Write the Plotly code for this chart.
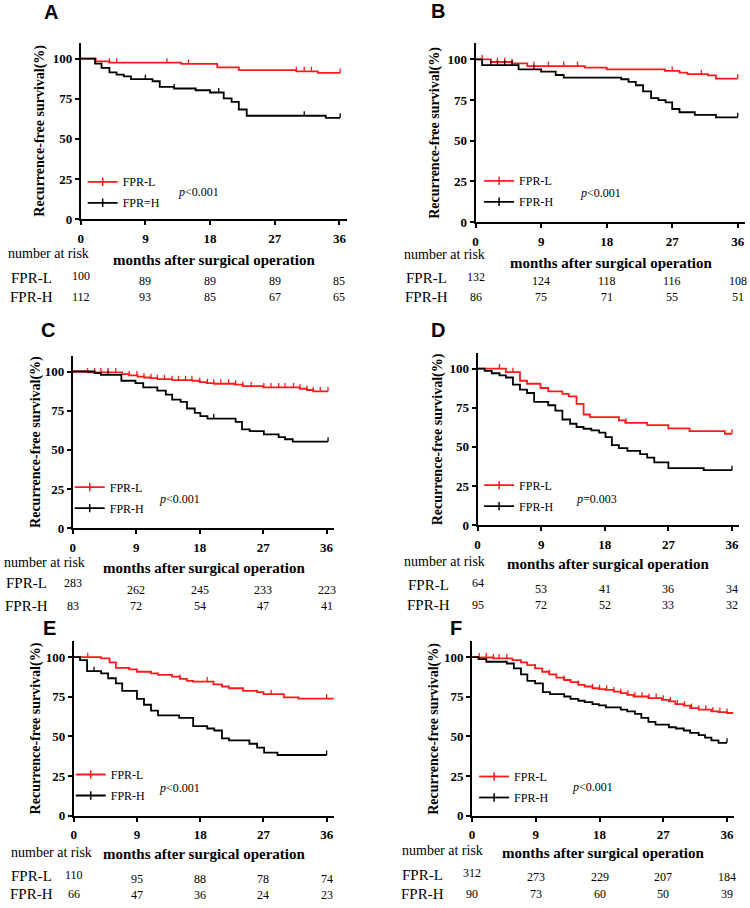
import plotly.graph_objects as go

W, H = 750, 908

month_ticks = [0, 9, 18, 27, 36]
surv_ticks = [0, 25, 50, 75, 100]
group_names = ["FPR-L", "FPR-H"]
group_colors = ["#ff1a1a", "#000000"]

# ---------------- Panel A ----------------
A_L_t = [0, 2.1, 4, 14, 19, 22, 30, 33, 36.1]
A_L_s = [100, 98.3, 97.5, 96.7, 94.6, 92.8, 92.1, 91.1, 91.1]
A_L_c = [4, 5, 12, 15, 30, 31.1, 32.1, 36.1]
A_H_t = [0, 2, 2.9, 4, 5, 6, 7, 10, 11, 13, 16, 18, 19.9, 21, 22, 23.1, 34.1, 36.1]
A_H_s = [100, 96.9, 94.2, 91.5, 90.1, 89, 87.2, 85.9, 82.4, 81.4, 80.3, 78.9, 75.2, 73.1, 68.3, 64.4, 63.1, 63.1]
A_H_c = [9, 13, 19.2, 31.1, 36.1]
A_L_risk = [100, 89, 89, 89, 85]
A_H_risk = [112, 93, 85, 67, 65]
A_p = "<0.001"

# ---------------- Panel B ----------------
B_L_t = [0, 2.1, 5, 7.1, 15, 18, 26, 28, 29.1, 31.9, 33, 36]
B_L_s = [100, 98.4, 97.6, 95.9, 94.9, 93.9, 92.9, 91.9, 90.9, 90.2, 88.2, 88.2]
B_L_c = [0.9, 3, 4, 5, 8, 10, 12.1, 14, 27, 31, 36]
B_H_t = [0, 0.9, 5.9, 9, 11, 12.1, 20, 21, 22, 23, 24.1, 25.1, 26.1, 27, 28, 30.1, 33, 36]
B_H_s = [100, 96.5, 93.9, 92.5, 90.4, 88.8, 87.8, 86.2, 84.1, 80.3, 76.2, 75, 73.6, 69.5, 67.5, 65.9, 64.4, 64.4]
B_H_c = [2.1, 3, 4, 5, 8, 36]
B_L_risk = [132, 124, 118, 116, 108]
B_H_risk = [86, 75, 71, 55, 51]
B_p = "<0.001"

# ---------------- Panel C ----------------
C_L_t = [0, 2.1, 7, 8, 9.2, 10.1, 11, 12, 14.1, 17, 18, 19, 20, 23, 24.1, 27, 32.2, 33.2, 34.1, 36.2]
C_L_s = [100, 99.4, 98.3, 97.5, 96.8, 96.2, 95.8, 95.1, 94.5, 94.1, 93.2, 92.6, 92.2, 91.6, 90.7, 89.9, 89, 88.2, 87.3, 87.3]
C_L_c = [2.1, 3.1, 4, 5, 6.1, 8, 9.1, 10.1, 11.1, 12, 13, 14.1, 15, 16, 16.9, 18, 19.1, 20, 21, 22.1,
         23.1, 24.1, 25.3, 27.1, 28.1, 29.2, 30.1, 31.3, 32.2, 33.2, 34.1, 35.1, 36.2]
C_H_t = [0, 3.1, 4, 6.9, 8.9, 10, 12, 13.2, 14.1, 15.3, 16.2, 17.3, 18.1, 19.1, 23.1, 24, 25.1, 27.1, 29.2, 30.1, 31.2, 36.2]
C_H_s = [100, 99, 97.9, 94.1, 92.6, 89.9, 87.8, 85.2, 82.1, 80.6, 76.4, 73.6, 71.5, 70, 67.9, 63.1, 62, 59.9, 58.2, 56.8, 55.3, 55.3]
C_H_c = [5, 20, 36.2]
C_L_risk = [283, 262, 245, 233, 223]
C_H_risk = [83, 72, 54, 47, 41]
C_p = "<0.001"

# ---------------- Panel D ----------------
D_L_t = [0, 4, 6, 7, 8.9, 10, 12, 12.9, 14, 15, 15.9, 20, 20.9, 24, 27, 30, 35, 36]
D_L_s = [100, 97.7, 92.2, 90.3, 87.6, 85.4, 83.8, 82.3, 77.4, 70.7, 69, 66.9, 65.4, 63.9, 61.8, 60.1, 58.4, 58.4]
D_L_c = [3.1, 5, 21, 36]
D_H_t = [0, 1, 2, 3.1, 4, 5, 6, 7, 8, 10, 11, 12, 13.1, 14, 15, 16.1, 17.2, 18.1, 19, 20, 21.2, 23, 24, 25, 27, 32, 36]
D_H_s = [100, 98.5, 97, 95.6, 94.3, 89.7, 86.5, 84.4, 78.7, 76.6, 73.2, 67.5, 64.8, 62.7, 61.6, 60.5, 59.1, 56.3,
         51.1, 49.2, 47.5, 45.4, 43.2, 40.1, 36.5, 35.2, 35.2]
D_H_c = [36]
D_L_risk = [64, 53, 41, 36, 34]
D_H_risk = [95, 72, 52, 33, 32]
D_p = "=0.003"

# ---------------- Panel E ----------------
E_L_t = [0, 3.9, 5.1, 6, 7.9, 9, 11, 12, 14, 15.1, 16.1, 17, 19.9, 21.1, 22.1, 24.1, 26.1, 27, 29.9, 32, 37.1]
E_L_s = [100, 99.2, 96.7, 93.3, 92.3, 90.8, 89.8, 88.8, 87.7, 86.3, 85, 84.6, 82.9, 81.5, 80.4, 78.8, 77.9, 76.7, 74.6, 73.8, 73.8]
E_L_c = [2, 15.1, 19, 28.1, 36]
E_H_t = [0, 0.9, 1.9, 3.9, 4.9, 6, 6.9, 9, 10, 11, 12, 15, 17, 19, 20, 21.1, 22.1, 25, 26.1, 27.1, 29, 36]
E_H_s = [100, 98.1, 91.2, 89.8, 86.7, 83.5, 78.75, 73.75, 70, 66.25, 63.3, 61.7, 56.5, 55, 53.75, 48.75, 47.5,
         45.4, 42.9, 39.8, 38.3, 38.3]
E_H_c = [2.9, 36]
E_L_risk = [110, 95, 88, 78, 74]
E_H_risk = [66, 47, 36, 24, 23]
E_p = "<0.001"

# ---------------- Panel F ----------------
F_L_t = [0, 1, 3, 5.7, 6.9, 7.8, 8.9, 9.9, 10.9, 11.9, 13, 13.9, 15, 15.9, 17, 17.9, 18.8, 20, 21, 21.9, 22.8,
         24.9, 26.8, 27.8, 28.7, 29.9, 30.8, 32, 33.8, 34.8, 36, 36.9]
F_L_s = [100, 99.8, 99.2, 98.1, 96.7, 95, 92.9, 90.8, 89.2, 87.1, 85.6, 84.2, 82.5, 81.5, 80.4, 79.8, 79.4, 78.3,
         77.3, 76.25, 75.2, 74.2, 73.1, 72.1, 70.4, 69.4, 67.9, 66.9, 65.8, 65.4, 64.8, 64.8]
F_L_c = [1, 2, 3, 3.8, 4.9, 8.9, 10.9, 13, 15, 17, 18, 19, 20, 21, 22, 23, 24, 25, 26, 27, 28, 29, 30, 31, 32,
         33, 34, 35, 36]
F_H_t = [0, 0.9, 2, 4.9, 5.9, 6.9, 7.8, 8.9, 10, 11, 13, 13.9, 15, 15.9, 17, 17.9, 18.9, 21, 21.9, 23, 23.9, 24.9,
         25.9, 27.8, 28.8, 29.9, 30.8, 32, 32.9, 33.8, 34.8, 36]
F_H_s = [100, 98.75, 97.1, 96, 92.9, 89.2, 85, 83.5, 77.9, 76.7, 75.2, 73.75, 72.5, 71.7, 70.4, 69.6, 68.3, 66.9,
         65.8, 64.2, 61.7, 59.2, 57.5, 55.8, 55, 53.75, 52.3, 50.8, 49.2, 47.5, 46, 46]
F_H_c = [36]
F_L_risk = [312, 273, 229, 207, 184]
F_H_risk = [90, 73, 60, 50, 39]
F_p = "<0.001"

panels = [
    dict(letter="A", L=(A_L_t, A_L_s, A_L_c), Hg=(A_H_t, A_H_s, A_H_c), risk=(A_L_risk, A_H_risk),
         names=("FPR-L", "FPR=H"), p=A_p),
    dict(letter="B", L=(B_L_t, B_L_s, B_L_c), Hg=(B_H_t, B_H_s, B_H_c), risk=(B_L_risk, B_H_risk),
         names=tuple(group_names), p=B_p),
    dict(letter="C", L=(C_L_t, C_L_s, C_L_c), Hg=(C_H_t, C_H_s, C_H_c), risk=(C_L_risk, C_H_risk),
         names=tuple(group_names), p=C_p),
    dict(letter="D", L=(D_L_t, D_L_s, D_L_c), Hg=(D_H_t, D_H_s, D_H_c), risk=(D_L_risk, D_H_risk),
         names=tuple(group_names), p=D_p),
    dict(letter="E", L=(E_L_t, E_L_s, E_L_c), Hg=(E_H_t, E_H_s, E_H_c), risk=(E_L_risk, E_H_risk),
         names=tuple(group_names), p=E_p),
    dict(letter="F", L=(F_L_t, F_L_s, F_L_c), Hg=(F_H_t, F_H_s, F_H_c), risk=(F_L_risk, F_H_risk),
         names=tuple(group_names), p=F_p),
]

# layout geometry in pixels (positions/styles only)
geom = [
    dict(x0=78, x1=345, yt=43, yb=221, let=(48, 12), yttl=37, leg=(80, 194), pv=(174, 194),
         nar=(46, 256), mt=(212, 262), lab_x=29, rowL=(280, 278, 283), rowH=(300, 300, 300)),
    dict(x0=474.5, x1=745, yt=43.5, yb=224, let=(437, 11), yttl=433, leg=(478, 193), pv=(577, 195),
         nar=(443, 257), mt=(610, 265), lab_x=425, rowL=(280, 279, 284), rowH=(300, 300, 300)),
    dict(x0=70, x1=332, yt=359, yb=533, let=(45, 333), yttl=33, leg=(67, 502), pv=(155, 503),
         nar=(42, 568), mt=(202, 573), lab_x=24, rowL=(588, 588, 595), rowH=(611, 611, 611)),
    dict(x0=476.5, x1=739, yt=356, yb=530, let=(437, 333), yttl=437, leg=(478, 500), pv=(573, 503),
         nar=(443, 566), mt=(607, 569), lab_x=427, rowL=(590, 588, 594), rowH=(610, 610, 610)),
    dict(x0=71, x1=332, yt=647, yb=823, let=(47, 634), yttl=33, leg=(68, 792), pv=(155, 795),
         nar=(49, 860), mt=(202, 862), lab_x=29, rowL=(884, 883, 887), rowH=(902, 902, 903)),
    dict(x0=471, x1=734, yt=647, yb=823, let=(455, 634), yttl=432, leg=(473, 794), pv=(569, 794),
         nar=(441, 858), mt=(602, 861), lab_x=421, rowL=(883, 881, 885), rowH=(902, 902, 902)),
]

SERIF = "Liberation Serif"
SANS = "Liberation Sans"


def step_value(ts, ss, t):
    v = ss[0]
    for ti, si in zip(ts, ss):
        if ti <= t + 1e-9:
            v = si
    return v


def px_x(px):
    return px / W


def px_y(py):
    return 1 - py / H


fig = go.Figure()
layout = dict(
    width=W, height=H, margin=dict(l=0, r=0, t=0, b=0),
    paper_bgcolor="white", plot_bgcolor="white", showlegend=True,
)
annotations = []

for i, (pn, g) in enumerate(zip(panels, geom)):
    sfx = "" if i == 0 else str(i + 1)
    xa, ya = "x" + sfx, "y" + sfx
    leg_id = "legend" + sfx
    for gi, (grp, col) in enumerate(zip((pn["L"], pn["Hg"]), group_colors)):
        ts, ss, cs = grp
        fig.add_trace(go.Scatter(
            x=ts, y=ss, mode="lines", line=dict(color=col, width=1.8, shape="hv"),
            xaxis=xa, yaxis=ya, showlegend=False, hoverinfo="skip"))
        fig.add_trace(go.Scatter(
            x=cs, y=[step_value(ts, ss, c) + 1.4 for c in cs], mode="markers",
            marker=dict(symbol="line-ns", size=3.2, color=col, line=dict(color=col, width=1.3)),
            xaxis=xa, yaxis=ya, showlegend=False, hoverinfo="skip"))
        fig.add_trace(go.Scatter(
            x=[None], y=[None], mode="lines+markers", name=pn["names"][gi],
            line=dict(color=col, width=1.8),
            marker=dict(symbol="line-ns", size=6, color=col, line=dict(color=col, width=1.5)),
            xaxis=xa, yaxis=ya, legend=leg_id, legendgroup=pn["letter"] + str(gi)))

    layout["xaxis" + sfx] = dict(
        domain=[px_x(g["x0"]), px_x(g["x1"])], range=[0, 37], anchor=ya,
        tickvals=month_ticks, showline=True, linecolor="black", linewidth=1.8,
        ticks="outside", ticklen=4, tickwidth=1.5, tickcolor="black",
        tickfont=dict(family=SERIF, size=13, color="black", weight="bold"),
        ticklabelstandoff=2,
        showgrid=False, zeroline=False, fixedrange=True)
    layout["yaxis" + sfx] = dict(
        domain=[px_y(g["yb"]), px_y(g["yt"])], range=[0, 110], anchor=xa,
        tickvals=surv_ticks, showline=True, linecolor="black", linewidth=1.8,
        ticks="outside", ticklen=4, tickwidth=1.5, tickcolor="black",
        tickfont=dict(family=SERIF, size=13, color="black", weight="bold"),
        showgrid=False, zeroline=False, fixedrange=True)
    layout[leg_id] = dict(
        x=px_x(g["leg"][0]), y=px_y(g["leg"][1]), xanchor="left", yanchor="middle",
        bgcolor="rgba(0,0,0,0)", borderwidth=0, tracegroupgap=2,
        font=dict(family=SERIF, size=12, color="black"))

    def ann(x, y, text, size, family=SERIF, xanchor="center", xref="paper", angle=0):
        annotations.append(dict(
            x=x, y=y, xref=xref, yref="paper", text=text, showarrow=False,
            xanchor=xanchor, yanchor="middle", textangle=angle,
            font=dict(family=family, size=size, color="black")))

    ann(px_x(g["let"][0]), px_y(g["let"][1]), "<b>" + pn["letter"] + "</b>", 20, family=SANS)
    ann(px_x(g["yttl"]), px_y((g["yt"] + g["yb"]) / 2), "<b>Recurrence-free survival(%)</b>", 14, angle=-90)
    ann(px_x(g["nar"][0]), px_y(g["nar"][1]), "number at risk", 14)
    ann(px_x(g["mt"][0]), px_y(g["mt"][1]), "<b>months after surgical operation</b>", 15)
    p_txt = "<i>p</i>" + pn["p"].replace("<", "&lt;")
    ann(px_x(g["pv"][0]), px_y(g["pv"][1]), p_txt, 12, xanchor="left")
    for label, row, risk in zip(group_names, (g["rowL"], g["rowH"]), pn["risk"]):
        ann(px_x(g["lab_x"]), px_y(row[0]), label, 15)
        for k, (m, n) in enumerate(zip(month_ticks, risk)):
            yy = row[1] if k == 0 else row[2]
            ann(m, px_y(yy), str(n), 12, xref=xa)

layout["annotations"] = annotations
fig.update_layout(**layout)
fig.write_html(
    "out.html",
    config={"displayModeBar": False},
    post_script="document.body.style.margin='0';document.body.style.overflow='hidden';",
)
